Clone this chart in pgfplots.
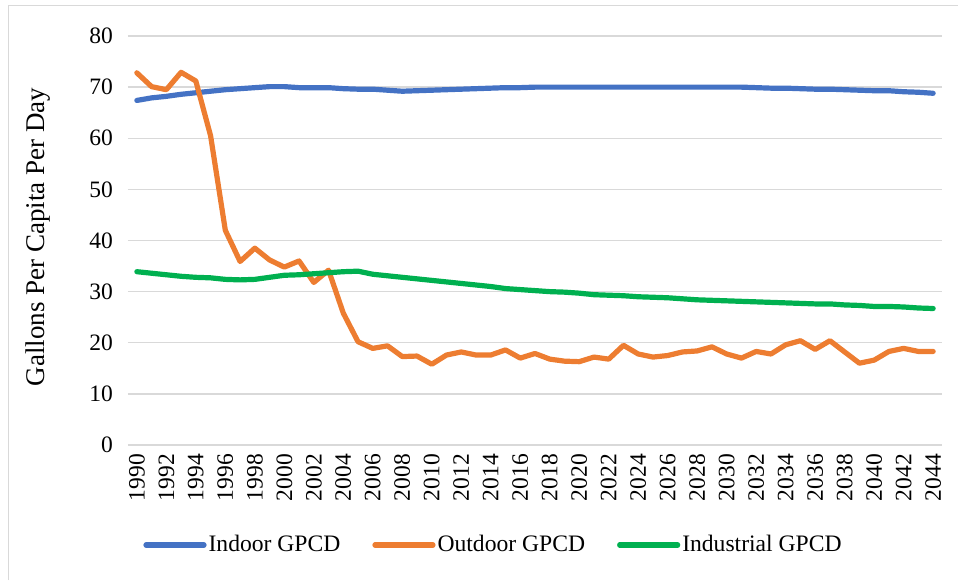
\documentclass[border=0pt]{standalone}
\usepackage{fontspec}
\setmainfont{Liberation Serif}
\usepackage{pgfplots}
\pgfplotsset{compat=1.18}
\usepackage{pgfplotstable}
\definecolor{cblue}{HTML}{4472C4}
\definecolor{corange}{HTML}{ED7D31}
\definecolor{cgreen}{HTML}{00B050}
\definecolor{cgrid}{HTML}{D9D9D9}
\pgfplotstableread{
year indoor outdoor industrial
1990 67.4 72.8 33.9
1991 67.9 70.1 33.6
1992 68.2 69.5 33.3
1993 68.6 72.9 33.0
1994 68.9 71.2 32.8
1995 69.2 60.5 32.7
1996 69.5 42.0 32.4
1997 69.7 35.9 32.3
1998 69.9 38.5 32.4
1999 70.1 36.2 32.8
2000 70.1 34.8 33.2
2001 69.9 36.0 33.3
2002 69.9 31.8 33.5
2003 69.9 34.2 33.7
2004 69.7 25.8 33.9
2005 69.6 20.2 34.0
2006 69.6 18.9 33.4
2007 69.4 19.4 33.1
2008 69.2 17.3 32.8
2009 69.3 17.4 32.5
2010 69.4 15.8 32.2
2011 69.5 17.6 31.9
2012 69.6 18.2 31.6
2013 69.7 17.6 31.3
2014 69.8 17.6 31.0
2015 69.9 18.6 30.6
2016 69.9 17.0 30.4
2017 70.0 17.9 30.2
2018 70.0 16.8 30.0
2019 70.0 16.4 29.9
2020 70.0 16.3 29.7
2021 70.0 17.2 29.4
2022 70.0 16.8 29.3
2023 70.0 19.5 29.2
2024 70.0 17.8 29.0
2025 70.0 17.2 28.9
2026 70.0 17.5 28.8
2027 70.0 18.2 28.6
2028 70.0 18.4 28.4
2029 70.0 19.2 28.3
2030 70.0 17.8 28.2
2031 70.0 17.0 28.1
2032 69.9 18.3 28.0
2033 69.8 17.8 27.9
2034 69.8 19.6 27.8
2035 69.7 20.4 27.7
2036 69.6 18.7 27.6
2037 69.6 20.4 27.6
2038 69.5 18.2 27.4
2039 69.4 16.0 27.3
2040 69.3 16.6 27.1
2041 69.3 18.3 27.1
2042 69.1 18.9 27.0
2043 69.0 18.3 26.8
2044 68.8 18.3 26.7
}\datatable
\begin{document}
\begin{tikzpicture}
\useasboundingbox (-64pt,-67.5pt) rectangle (415pt,222.5pt);
\draw[cgrid, line width=0.5pt] (-59.5pt,-67.5pt) -- (-59.5pt,220pt) -- (415pt,220pt);
\begin{axis}[
  scale only axis,
  width=407pt, height=204.5pt,
  xmin=1989.4, xmax=2044.6,
  ymin=0, ymax=80,
  ytick={0,10,...,80},
  xtick={1990,1992,...,2044},
  axis line style={draw=none},
  tick style={draw=none},
  ymajorgrids,
  grid style={cgrid, line width=0.7pt},
  font=\fontsize{11.75}{13}\selectfont,
  /pgf/number format/assume math mode=true,
  xticklabel={\pgfmathprintnumber[1000 sep={}]{\tick}},
  yticklabel style={xshift=-4pt},
  xticklabel style={rotate=90, anchor=east, xshift=-1pt},
  ylabel={Gallons Per Capita Per Day},
  every axis y label/.style={at={(axis description cs:-0.1106,0.509)}, rotate=90, anchor=center, font=\fontsize{13.5}{15}\selectfont},
  legend columns=3,
  legend style={draw=none, fill=none, at={(axis description cs:0.449,-0.2445)}, anchor=center,
    font=\fontsize{11.8}{13}\selectfont,
    /tikz/every even column/.append style={column sep=15pt},
    /tikz/every odd column/.append style={column sep=0pt},
    nodes={inner xsep=1pt}},
  legend image code/.code={\draw[#1, line width=2.6pt] (0pt,0pt) -- (29pt,0pt);},
  every axis plot/.append style={line width=2.6pt, line join=round, line cap=round},
]
\addplot[cblue] table[x=year, y=indoor] {\datatable};
\addlegendentry{Indoor GPCD}
\addplot[corange] table[x=year, y=outdoor] {\datatable};
\addlegendentry{Outdoor GPCD}
\addplot[cgreen] table[x=year, y=industrial] {\datatable};
\addlegendentry{Industrial GPCD}
\end{axis}
\end{tikzpicture}
\end{document}
